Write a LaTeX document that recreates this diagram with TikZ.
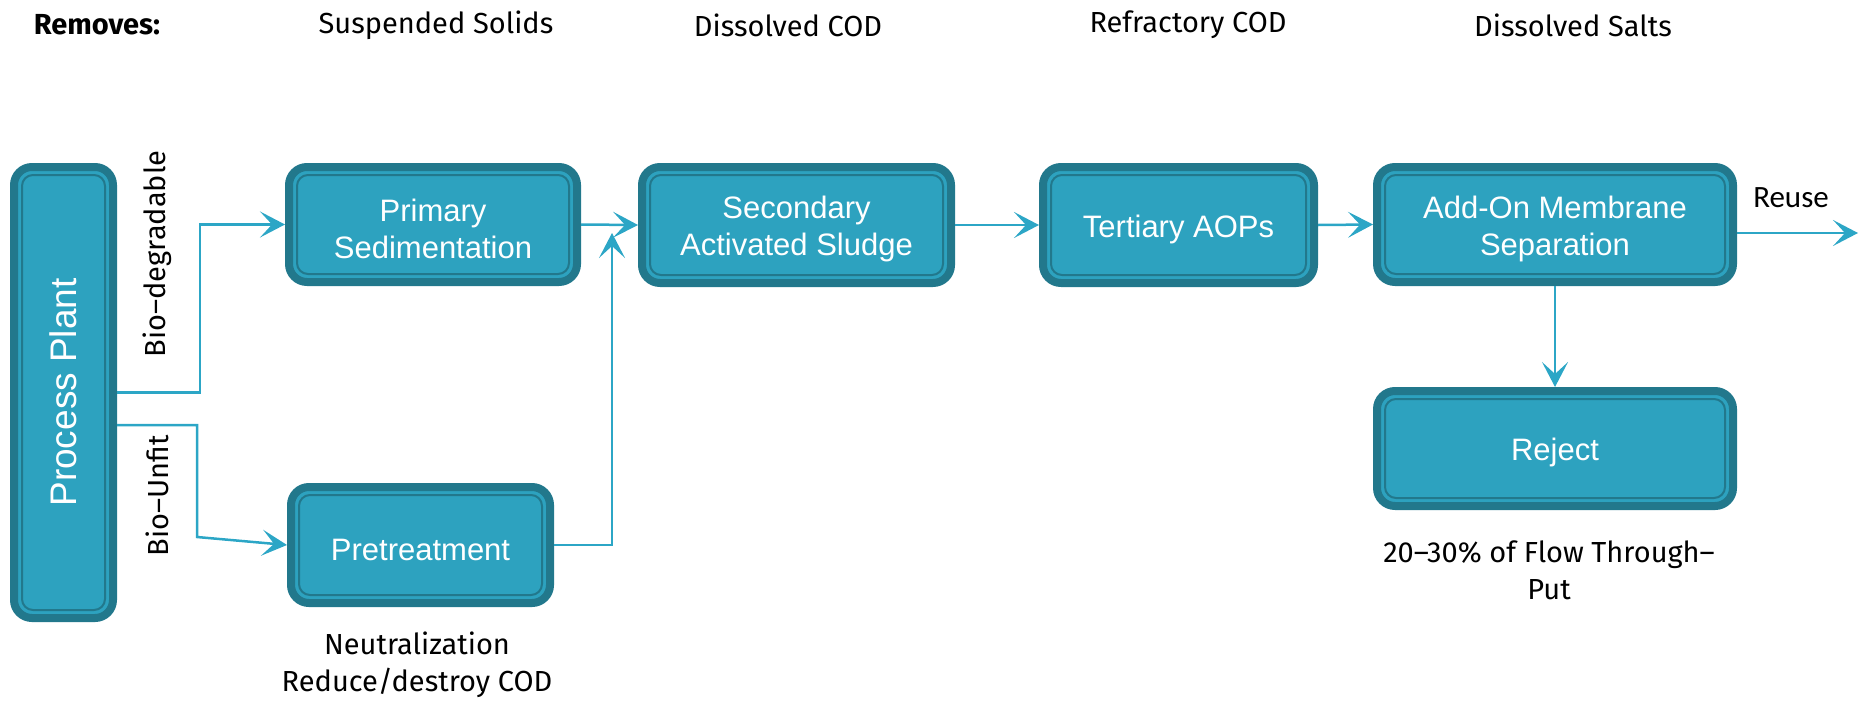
\documentclass[tikz,border=0pt]{standalone}
\usepackage{fontspec}
\setmainfont{Liberation Sans}
\newfontfamily\notefont{Fira Sans}
\newfontfamily\calfont{Carlito}
\usetikzlibrary{arrows.meta}
\definecolor{boxfill}{HTML}{2DA2BF}
\definecolor{boxedge}{HTML}{22788C}
\definecolor{flowline}{HTML}{2CA6C6}
% extra room above the first line so box labels sit a little low
\newcommand\stagepad{\rule{0pt}{30.5pt}}

\begin{document}
\begin{tikzpicture}[x=1pt,y=-1pt,
  stage/.style={rectangle, rounded corners=18pt, draw=boxedge, line width=8pt,
    fill=boxfill, text=white, align=center, inner sep=0pt,
    font=\fontsize{31}{37}\selectfont,
    path picture={\draw[boxedge,line width=2pt,rounded corners=11pt]
      ([shift={(8pt,8pt)}]path picture bounding box.south west) rectangle
      ([shift={(-8pt,-8pt)}]path picture bounding box.north east);}},
  note/.style={font=\notefont\fontsize{29}{37}\selectfont, align=center, inner sep=0pt},
  flow/.style={draw=flowline, line width=2.5pt,
    -{Stealth[length=25pt,width=26pt,inset=12pt]}}]

\useasboundingbox (0,0) rectangle (1859,701);

% header row
\node[note, font=\notefont\bfseries\fontsize{29}{37}\selectfont] (hdr) at (97,25) {Removes:};
\node[note] (hss) at (436,25) {Suspended Solids};
\node[note] (hdc) at (788,25) {Dissolved COD};
\node[note] (hrc) at (1188,25) {Refractory COD};
\node[note] (hds) at (1573,25) {Dissolved Salts};

% treatment stages
\node[stage, minimum width=99, minimum height=451] (pp) at (63.5,392.5)
  {\fontsize{37}{40}\selectfont\rotatebox{90}{Process Plant}};
\node[stage, minimum width=288, minimum height=115] (prim) at (433,224.5) {\stagepad Primary\\Sedimentation};
\node[stage, minimum width=309, minimum height=116] (sec) at (796.5,225) {\stagepad Secondary\\Activated Sludge};
\node[stage, minimum width=271, minimum height=116] (ter) at (1178.5,225) {\stagepad Tertiary AOPs};
\node[stage, minimum width=356, minimum height=115] (mem) at (1555,224.5) {\stagepad Add-On Membrane\\Separation};
\node[stage, minimum width=356, minimum height=115] (rej) at (1555,448.5) {\stagepad Reject};
\node[stage, minimum width=259, minimum height=116] (pre) at (420.5,545) {\stagepad Pretreatment};

% side labels
\node[note, rotate=90] (lbd) at (157,254) {Bio–degradable};
\node[note, rotate=90] (lbu) at (157,496) {Bio–Unfit};
\node[note] (lpre) at (417,665) {Neutralization\\Reduce/destroy COD};
\node[note] (lrej) at (1549,570) {20–30\% of Flow Through–\\Put};
\node[font=\calfont\fontsize{31}{37}\selectfont, inner sep=0pt] (lreuse) at (1791,198) {Reuse};

% junction points
\coordinate (bdx) at (200,0);
\coordinate (bu) at (197,425);
\coordinate (bk) at (197,537);
\coordinate (merge) at (612,233);
\coordinate (out) at (1858,233);

% flows
\draw[flow] (pp.east) -- (bdx |- pp.east) |- (prim.west);
\draw[flow] ([yshift=-32.5pt]pp.east) -- (bu) -- (bk) -- (pre.west);
\draw[flow] (pre.east) -| (merge);
\draw[flow] (prim.east) -- (sec.west);
\draw[flow] (sec.east) -- (ter.west);
\draw[flow] (ter.east) -- (mem.west);
\draw[flow] ([yshift=-8.5pt]mem.east) -- (out);
\draw[flow] (mem.south) -- (rej.north);
\end{tikzpicture}
\end{document}
